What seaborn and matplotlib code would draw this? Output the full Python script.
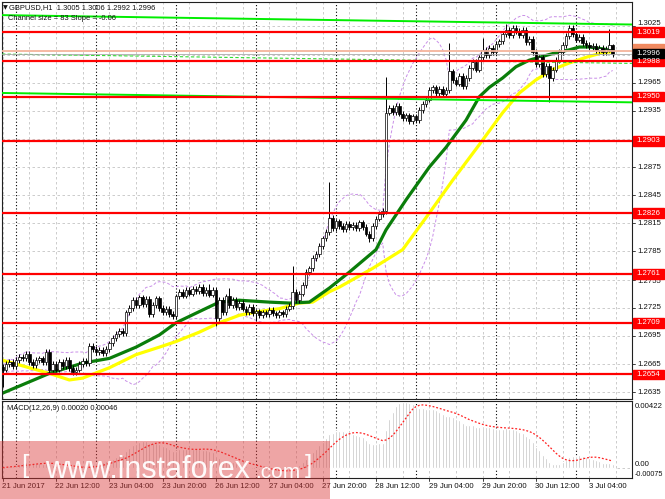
import numpy as np
import pandas as pd
import matplotlib
matplotlib.use("Agg")
import matplotlib.pyplot as plt
import seaborn as sns
from matplotlib.patches import Rectangle
from matplotlib.transforms import blended_transform_factory

sns.set_theme(style="white")
plt.rcParams["font.family"] = ["Liberation Sans", "DejaVu Sans"]

# ---------------- data ----------------
symbol_text = "GBPUSD,H1  1.3005 1.3006 1.2992 1.2996"
channel_text = "Channel size = 83 Slope = -0.06"
macd_text = "MACD(12,26,9) 0.00020 0.00046"

first_open = 1.2662
closes = [
    1.2659, 1.2665, 1.2667, 1.2663, 1.2669, 1.2673, 1.2671, 1.2676, 1.2667, 1.2664,
    1.2669, 1.2671, 1.2667, 1.2678, 1.2659, 1.2665, 1.2659, 1.2667, 1.2663, 1.2669,
    1.2661, 1.2656, 1.2659, 1.2665, 1.2668, 1.2666, 1.2684, 1.2681, 1.2678, 1.2680,
    1.2677, 1.2681, 1.2687, 1.2693, 1.2697, 1.2700, 1.2698, 1.2720, 1.2725, 1.2733,
    1.2728, 1.2736, 1.2729, 1.2734, 1.2718, 1.2728, 1.2735, 1.2725, 1.2720, 1.2724,
    1.2718, 1.2716, 1.2737, 1.2742, 1.2738, 1.2744, 1.2740, 1.2745, 1.2743, 1.2747,
    1.2741, 1.2744, 1.2739, 1.2744, 1.2714, 1.2733, 1.2720, 1.2737, 1.2728, 1.2733,
    1.2726, 1.2730, 1.2724, 1.2720, 1.2726, 1.2719, 1.2721, 1.2717, 1.2720, 1.2718,
    1.2723, 1.2719, 1.2717, 1.2720, 1.2718, 1.2724, 1.2727, 1.2742, 1.2733, 1.2740,
    1.2749, 1.2763, 1.2767, 1.2778, 1.2782, 1.2791, 1.2799, 1.2806, 1.2821, 1.2810,
    1.2817, 1.2812, 1.2809, 1.2814, 1.2811, 1.2813, 1.2810, 1.2816, 1.2811, 1.2804,
    1.2799, 1.2812, 1.2820, 1.2825, 1.2828, 1.2933, 1.2938, 1.2934, 1.2940, 1.2932,
    1.2927, 1.2930, 1.2924, 1.2929, 1.2925, 1.2936, 1.2942, 1.2947, 1.2957, 1.2960,
    1.2954, 1.2958, 1.2953, 1.2957, 1.2977, 1.2968, 1.2964, 1.2972, 1.2961, 1.2970,
    1.2981, 1.2987, 1.2979, 1.2992, 1.3000, 1.2994, 1.3002, 1.2998, 1.3006, 1.3009,
    1.3017, 1.3021, 1.3016, 1.3023, 1.3020, 1.3016, 1.3021, 1.3008, 1.3012, 1.2998,
    1.2985, 1.2992, 1.2974, 1.2983, 1.2970, 1.2979, 1.2989, 1.2998, 1.3005, 1.3015,
    1.3023, 1.3017, 1.3011, 1.3014, 1.3007, 1.3005, 1.3003, 1.3004, 1.3000, 1.3002,
    1.2998, 1.3001, 1.3005, 1.2996,
]
spike_high = {62: 1.2750, 68: 1.2746, 87: 1.2770, 98: 1.2859, 115: 1.2971,
              134: 1.3007, 144: 1.3013, 151: 1.3028, 170: 1.3027, 182: 1.3022, 183: 1.3006}
spike_low = {0: 1.2641, 14: 1.2654, 64: 1.2706, 76: 1.2711, 110: 1.2795,
             164: 1.2944, 183: 1.2992}

green_ma_bar = [0, 14, 24, 32, 40, 47, 52, 62, 65, 71, 80, 86, 92, 98, 104, 112, 115,
                121, 128, 133, 139, 143, 146, 150, 154, 158, 162, 166, 170, 173, 176, 180, 183]
green_ma_val = [1.2634, 1.2655, 1.2666, 1.2671, 1.2683, 1.2696, 1.2709, 1.2726, 1.2731,
                1.2733, 1.2731, 1.2730, 1.2731, 1.2746, 1.2763, 1.2787, 1.2808, 1.2840,
                1.2875, 1.2896, 1.2925, 1.2950, 1.2960, 1.2970, 1.2982, 1.2989, 1.2993,
                1.2997, 1.3000, 1.3003, 1.3003, 1.3001, 1.2999]
yellow_ma_bar = [0, 14, 20, 24, 32, 40, 47, 52, 59, 65, 71, 77, 83, 89, 93, 98, 101, 111,
                 120, 128, 135, 143, 150, 155, 160, 165, 170, 175, 180, 183]
yellow_ma_val = [1.2669, 1.2655, 1.2648, 1.2650, 1.2661, 1.2675, 1.2683, 1.2689, 1.2699,
                 1.2709, 1.2717, 1.2721, 1.2724, 1.2730, 1.2731, 1.2742, 1.2747, 1.2767,
                 1.2787, 1.2826, 1.2861, 1.2899, 1.2933, 1.2954, 1.2968, 1.2979, 1.2986,
                 1.2992, 1.2997, 1.2998]

channel_bars = [-0.2, 188.8]
channel_top = [1.3037, 1.3027]
channel_mid = [1.29955, 1.29855]
channel_bottom = [1.2954, 1.2944]

levels = [1.3019, 1.2988, 1.2950, 1.2903, 1.2826, 1.2761, 1.2709, 1.2654]
level_labels = ["1.3019", "1.2988", "1.2950", "1.2903", "1.2826", "1.2761", "1.2709", "1.2654"]
bid, ask = 1.2996, 1.2999
# price scale labels that the reference shows (1.2995 and 1.2905 are hidden under price boxes)
price_ticks = [1.2635, 1.2665, 1.2695, 1.2725, 1.2755, 1.2785, 1.2815, 1.2845,
               1.2875, 1.2905, 1.2935, 1.2965, 1.2995, 1.3025]
price_tick_labels = ["1.2635", "1.2665", "1.2695", "1.2725", "1.2755", "1.2785", "1.2815",
                     "1.2845", "1.2875", "", "1.2935", "1.2965", "", "1.3025"]
time_labels = ["21 Jun 2017", "22 Jun 12:00", "23 Jun 04:00", "23 Jun 20:00",
               "26 Jun 12:00", "27 Jun 04:00", "27 Jun 20:00", "28 Jun 12:00",
               "29 Jun 04:00", "29 Jun 20:00", "30 Jun 12:00", "3 Jul 04:00"]
time_label_bars = [0, 16, 32, 48, 64, 80, 96, 112, 128, 144, 160, 176]
grid_bars = list(range(0, 189, 8))
day_sep_bars = [4, 28, 52, 76, 100, 124, 148, 172]
macd_labels = ["0.00422", "0.00", "-0.00075"]

# ---------------- derived series ----------------
n = len(closes)
bars = np.arange(n)
c = np.array(closes)
o = np.array([first_open] + closes[:-1])
wick = 0.0003
hi = np.maximum(o, c) + wick
lo = np.minimum(o, c) - wick
for k, v in spike_high.items():
    hi[k] = v
for k, v in spike_low.items():
    lo[k] = v

s = pd.Series(c)
bb_mid = s.rolling(20, min_periods=1).mean()
bb_sd = s.rolling(20, min_periods=1).std(ddof=0).fillna(0)
bb_up, bb_dn = bb_mid + 2 * bb_sd, bb_mid - 2 * bb_sd
macd_main = s.ewm(span=12, adjust=False).mean() - s.ewm(span=26, adjust=False).mean()
macd_sig = macd_main.rolling(9, min_periods=1).mean()

# ---------------- figure ----------------
W, H = 665, 499
fig = plt.figure(figsize=(W / 100, H / 100), dpi=100)
fig.patch.set_facecolor("white")


def box(l, t, r, b):
    return [l / W, 1 - b / H, (r - l) / W, (b - t) / H]


ax = fig.add_axes(box(2, 2, 632, 399))
axm = fig.add_axes(box(2, 401, 632, 478))
XL = (-0.21, 188.8)
for a in (ax, axm):
    a.set_facecolor("white")
    a.set_xlim(*XL)
    a.set_xticks([])
    a.set_yticks([])
    for sp in a.spines.values():
        sp.set_color("#202020")
        sp.set_linewidth(0.8)
    for g in grid_bars:
        a.axvline(g, color="#c4c4c4", lw=0.6, ls=(0, (3, 3)), zorder=0.5)
    for d in day_sep_bars:
        a.axvline(d, color="#000000", lw=0.8, ls=(0, (1, 2)), zorder=0.6)

ax.set_ylim(1.26277, 1.30510)
for p in price_ticks:
    ax.axhline(p, color="#c4c4c4", lw=0.6, ls=(0, (3, 3)), zorder=0.5)

# Bollinger-style envelopes
ax.plot(bars, bb_up, color="#c98fe8", lw=0.7, ls=(0, (3, 2)), zorder=1)
ax.plot(bars, bb_dn, color="#c98fe8", lw=0.7, ls=(0, (3, 2)), zorder=1)

# moving averages
sns.lineplot(x=yellow_ma_bar, y=yellow_ma_val, ax=ax, color="#ffff00", lw=2.3, zorder=2)
sns.lineplot(x=green_ma_bar, y=green_ma_val, ax=ax, color="#0a7d0a", lw=2.3, zorder=2.1)

# candles
ax.vlines(bars, lo, hi, color="black", lw=0.7, zorder=3)
body_h = np.maximum(np.abs(c - o), 0.00004)
faces = np.where(c >= o, "white", "black")
ax.bar(bars, body_h, bottom=np.minimum(o, c), width=0.72, color=faces,
       edgecolor="black", linewidth=0.5, zorder=3.1)

# channel
ax.plot(channel_bars, channel_top, color="#00ee00", lw=1.4, zorder=4)
ax.plot(channel_bars, channel_bottom, color="#00ee00", lw=1.4, zorder=4)
ax.plot(channel_bars, channel_mid, color="#33dd33", lw=0.8, ls=(0, (3, 2)), zorder=4)

# levels
for lv in levels:
    ax.axhline(lv, color="#ff0000", lw=1.6, zorder=4.5)
ax.axhline(ask, color="#f5b49c", lw=1.3, zorder=4.2)
ax.axhline(bid, color="#a8a8a8", lw=0.6, zorder=4.2)

# right price scale
tr = blended_transform_factory(fig.transFigure, ax.transData)
label_shift = {"1.3025": 0.00035, "1.2755": -0.0002}
for p, lb in zip(price_ticks, price_tick_labels):
    ax.plot([632 / W, 635 / W], [p, p], transform=tr, color="#202020", lw=0.6,
            clip_on=False, zorder=5)
    if lb:
        ax.text(637 / W, p + label_shift.get(lb, 0.0), lb, transform=tr, fontsize=5.6,
                color="#111111", va="center", ha="left", clip_on=False, zorder=5)
bh = 9.5 / 9378


def price_box(price, label, fc, tc="white"):
    ax.add_patch(Rectangle((633 / W, price - bh / 2), 31 / W, bh, transform=tr,
                           facecolor=fc, edgecolor=fc, clip_on=False, zorder=6))
    if label:
        ax.text(636 / W, price, label, transform=tr, fontsize=5.6, color=tc,
                va="center", ha="left", clip_on=False, zorder=7)


for lv, lb in zip(levels, level_labels):
    price_box(lv, lb, "#ff0000")
price_box(ask + 0.0002, "", "#f08a60")
price_box(bid, f"{bid:.4f}", "#000000")

# MACD panel
axm.set_ylim(-0.00065, 0.00422)
axm.axhline(0, color="#c4c4c4", lw=0.6, ls=(0, (3, 3)), zorder=0.5)
axm.bar(bars, macd_main, width=0.65, color="#bdbdbd", zorder=2)
sns.lineplot(x=bars, y=macd_sig.values, ax=axm, color="#ff2020", lw=0.9,
             ls=(0, (1.5, 1.5)), zorder=3)
axm.set_xlabel("")
axm.set_ylabel("")
ax.set_xlabel("")
ax.set_ylabel("")

for lb, yy, fs in zip(macd_labels, [406, 465, 474], [5.6, 5.6, 5.2]):
    fig.text(635 / W, 1 - yy / H, lb, fontsize=fs, color="#111111", va="center", ha="left")

# time labels
trx = blended_transform_factory(axm.transData, fig.transFigure)
for b, lb in zip(time_label_bars, time_labels):
    axm.plot([b, b], [1 - 478 / H, 1 - 481 / H], transform=trx, color="#202020",
             lw=0.6, clip_on=False)
    axm.text(b - 0.2, 1 - 487 / H, lb, transform=trx, fontsize=5.6, color="#111111",
             va="center", ha="left", clip_on=False)

# header texts
fig.text(2.5 / W, 1 - 8 / H, "\u25bc", fontsize=4.5, family=["DejaVu Sans"],
         color="#111111", va="center", ha="left")
fig.text(9 / W, 1 - 8 / H, symbol_text, fontsize=5.4, color="#111111", va="center", ha="left")
fig.text(8 / W, 1 - 19 / H, channel_text, fontsize=5.4, color="#111111", va="center", ha="left")
fig.text(7 / W, 1 - 408 / H, macd_text, fontsize=5.4, color="#111111", va="center", ha="left")

# watermark
fig.add_artist(Rectangle((0, 0), 330 / W, 58 / H, transform=fig.transFigure,
                         facecolor=(0.86, 0.22, 0.22), alpha=0.45, edgecolor="none", zorder=10))
wm = dict(color="white", va="baseline", ha="left", zorder=11, alpha=0.95)
fig.text(21 / W, 1 - 473 / H, "[", fontsize=19, **wm)
fig.text(45 / W, 1 - 478 / H, "www.instaforex", fontsize=22, **wm)
fig.text(255 / W, 1 - 478 / H, ".com", fontsize=15, **wm)
fig.text(305 / W, 1 - 473 / H, "]", fontsize=19, **wm)

fig.savefig("out.png", dpi=100, facecolor="white")
